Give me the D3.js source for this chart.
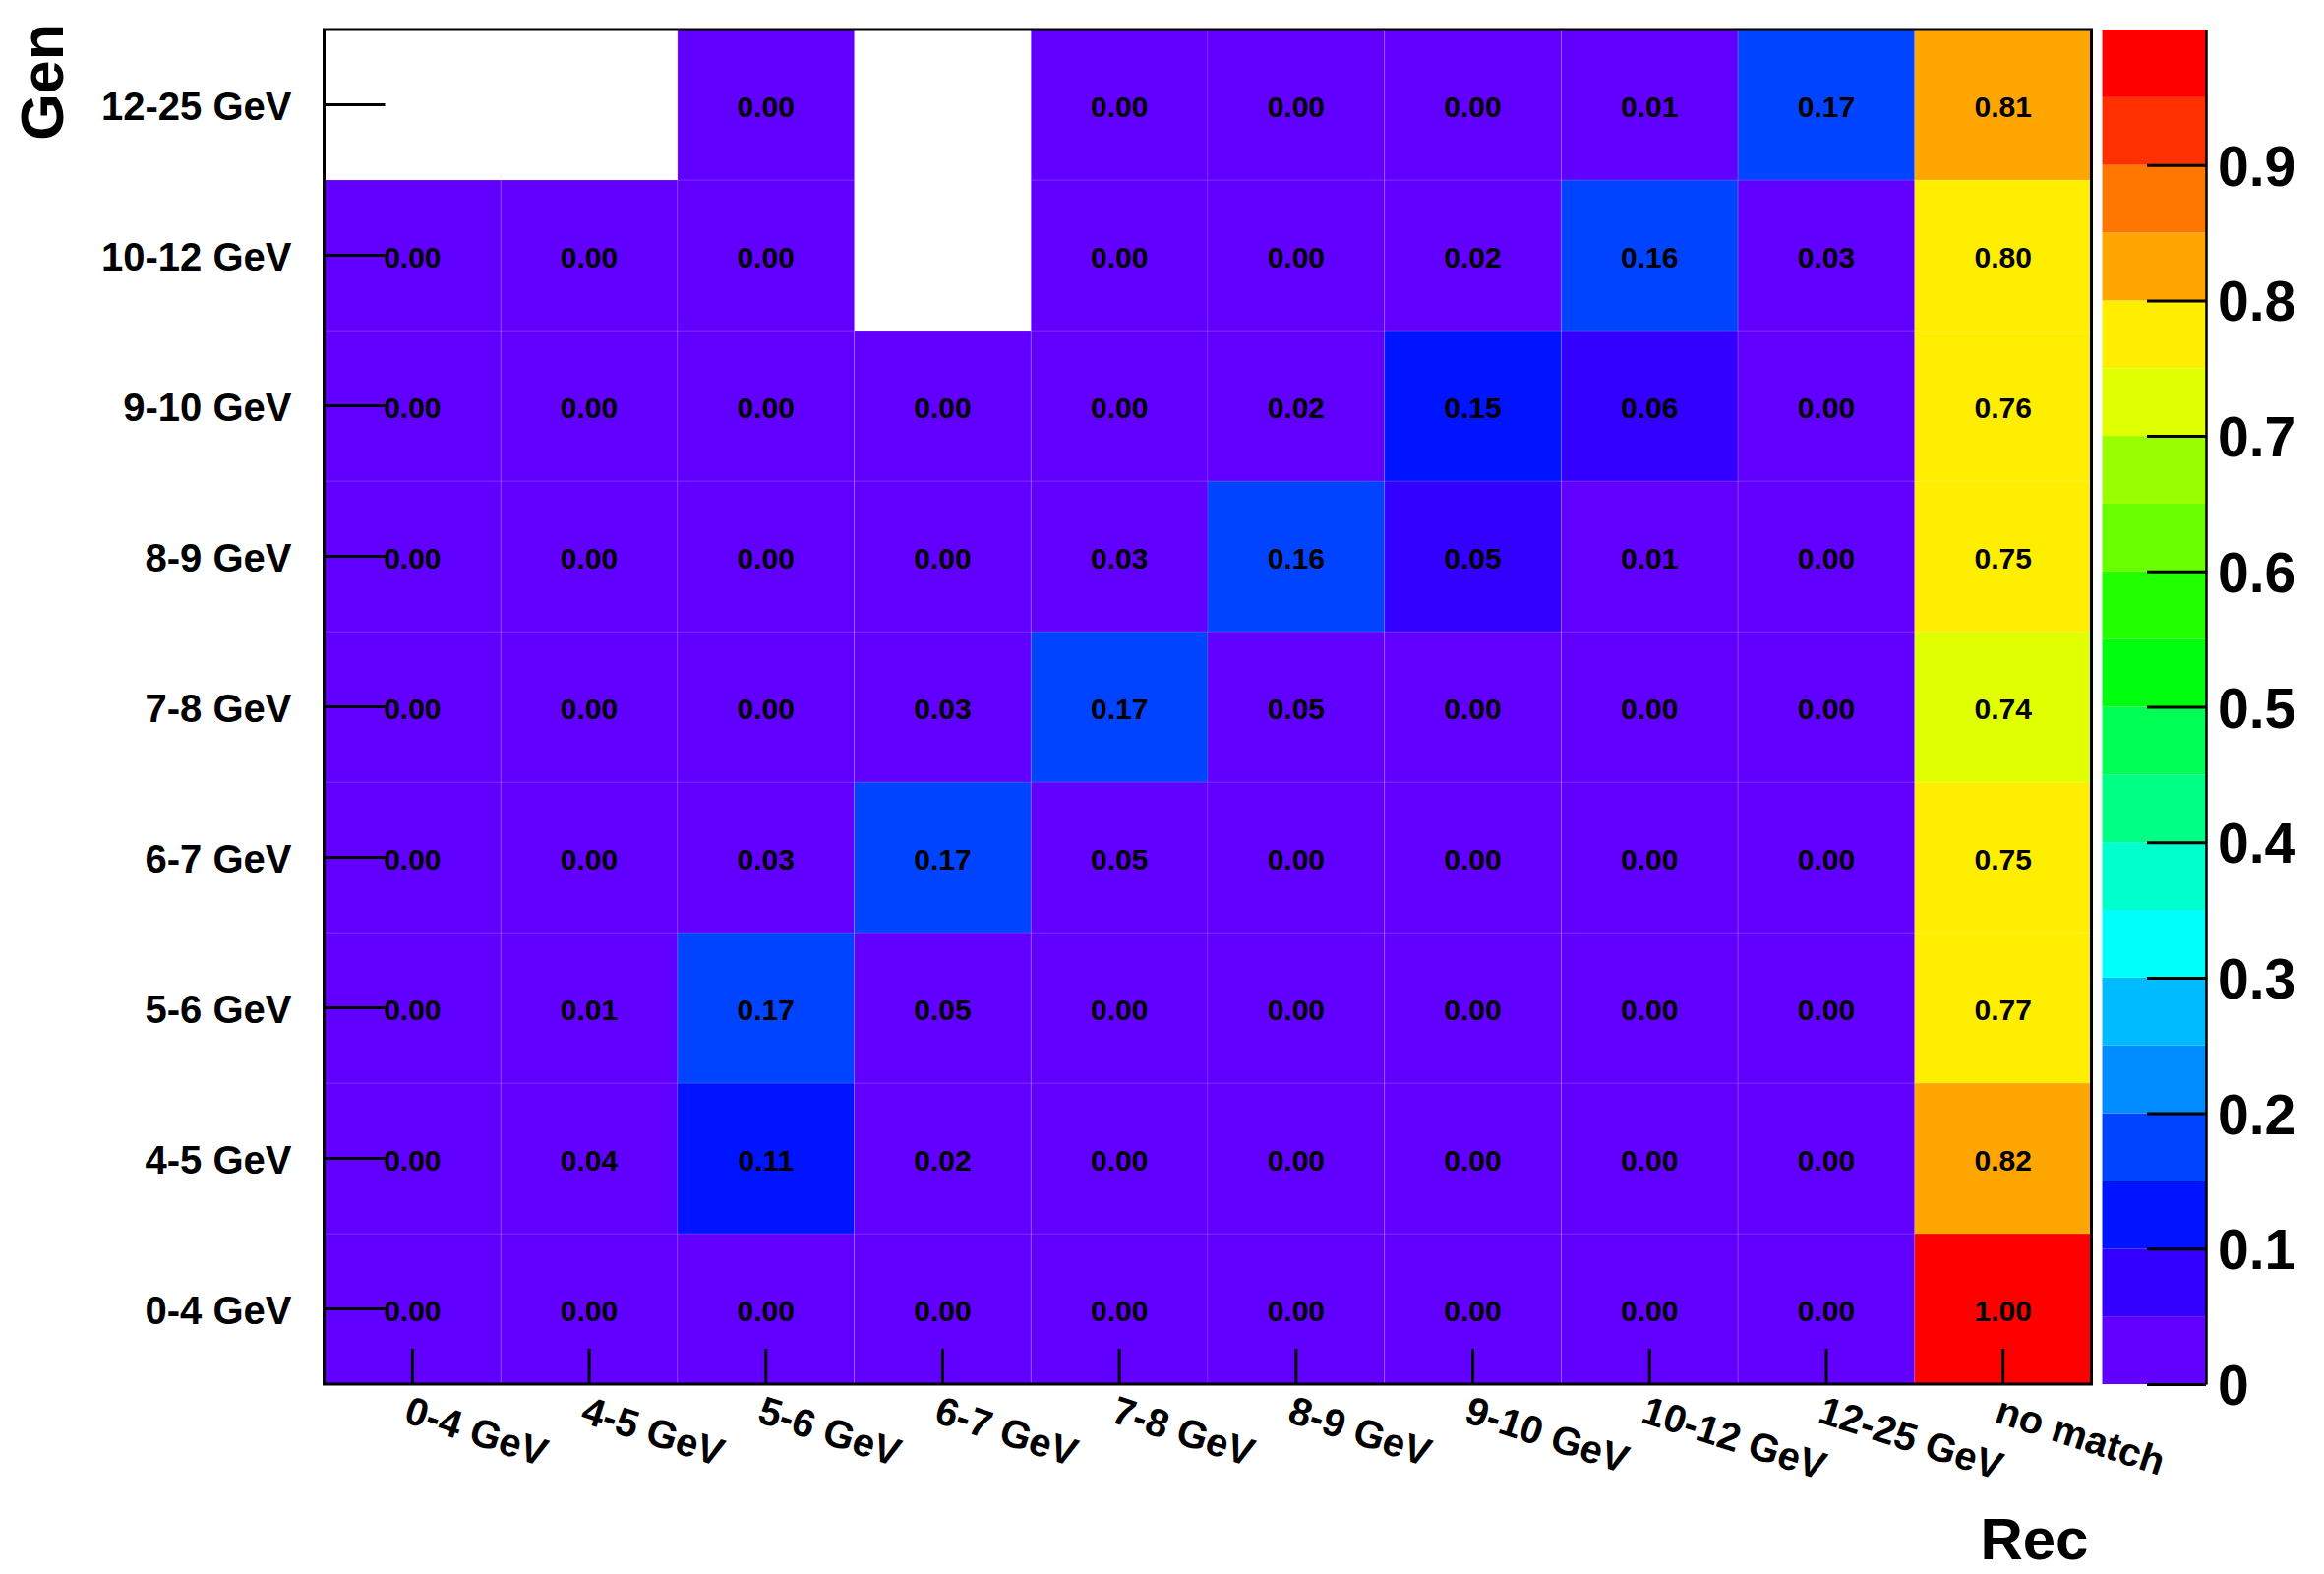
<!DOCTYPE html>
<html>
<head>
<meta charset="utf-8">
<script src="https://cdn.jsdelivr.net/npm/d3@7/dist/d3.min.js"></script>
<style>
  body { margin: 0; background: #ffffff; }
  text { font-family: "Liberation Sans", Arial, Helvetica, sans-serif; font-weight: bold; }
</style>
</head>
<body>
<svg id="chart" width="2363" height="1600"></svg>
<script>
// ---------------- data ----------------
const recCategories = ["0-4 GeV", "4-5 GeV", "5-6 GeV", "6-7 GeV", "7-8 GeV", "8-9 GeV", "9-10 GeV", "10-12 GeV", "12-25 GeV", "no match"];
const genCategories = ["0-4 GeV", "4-5 GeV", "5-6 GeV", "6-7 GeV", "7-8 GeV", "8-9 GeV", "9-10 GeV", "10-12 GeV", "12-25 GeV"];

// fraction of events per (Gen row, Rec column); null = empty bin
const gen_0_4   = [0.00, 0.00, 0.00, 0.00, 0.00, 0.00, 0.00, 0.00, 0.00, 1.00];
const gen_4_5   = [0.00, 0.04, 0.11, 0.02, 0.00, 0.00, 0.00, 0.00, 0.00, 0.82];
const gen_5_6   = [0.00, 0.01, 0.17, 0.048, 0.00, 0.00, 0.00, 0.00, 0.00, 0.77];
const gen_6_7   = [0.00, 0.00, 0.03, 0.17, 0.048, 0.00, 0.00, 0.00, 0.00, 0.752];
const gen_7_8   = [0.00, 0.00, 0.00, 0.03, 0.17, 0.048, 0.00, 0.00, 0.00, 0.74];
const gen_8_9   = [0.00, 0.00, 0.00, 0.00, 0.03, 0.16, 0.052, 0.01, 0.00, 0.752];
const gen_9_10  = [0.00, 0.00, 0.00, 0.00, 0.00, 0.02, 0.149, 0.06, 0.00, 0.76];
const gen_10_12 = [0.00, 0.00, 0.00, null, 0.00, 0.00, 0.02, 0.16, 0.03, 0.798];
const gen_12_25 = [null, null, 0.00, null, 0.00, 0.00, 0.00, 0.01, 0.17, 0.81];
const genRows = [gen_0_4, gen_4_5, gen_5_6, gen_6_7, gen_7_8, gen_8_9, gen_9_10, gen_10_12, gen_12_25];

const colorTicks = [0, 0.1, 0.2, 0.3, 0.4, 0.5, 0.6, 0.7, 0.8, 0.9];
const xTitle = "Rec";
const yTitle = "Gen";

// ROOT "pretty" palette, 20 contour levels
const palette = ["#6200ff", "#3300ff", "#0014ff", "#0044ff", "#008bff", "#00bbff", "#00fffb", "#00ffcc",
                 "#00ff85", "#00ff55", "#00ff0e", "#22ff00", "#69ff00", "#99ff00", "#e0ff00", "#ffee00",
                 "#ffa700", "#ff7700", "#ff3000", "#ff0000"];

// ---------------- layout ----------------
const plot = { left: 329.5, right: 2126.5, top: 30, bottom: 1407 };
const bar = { left: 2137.5, right: 2243 };

const svg = d3.select("#chart");
svg.append("rect").attr("width", 2363).attr("height", 1600).attr("fill", "#fff");

const x = d3.scaleBand().domain(recCategories).range([plot.left, plot.right]);
const y = d3.scaleBand().domain(genCategories).range([plot.bottom, plot.top]);
const color = d3.scaleQuantize().domain([0, 1]).range(palette);

const cells = [];
genRows.forEach((row, gi) => {
  row.forEach((v, ri) => {
    if (v !== null) cells.push({ gen: genCategories[gi], rec: recCategories[ri], value: v });
  });
});

const gCells = svg.append("g");
gCells.selectAll("rect").data(cells).join("rect")
  .attr("x", d => x(d.rec))
  .attr("y", d => y(d.gen))
  .attr("width", x.bandwidth())
  .attr("height", y.bandwidth())
  .attr("fill", d => color(d.value))
  .attr("stroke", "rgba(255,255,255,0.13)")
  .attr("stroke-width", 1);

gCells.selectAll("text").data(cells).join("text")
  .attr("x", d => x(d.rec) + x.bandwidth() / 2)
  .attr("y", d => y(d.gen) + y.bandwidth() / 2)
  .attr("dy", "0.42em")
  .attr("text-anchor", "middle")
  .attr("font-size", 30)
  .attr("fill", "#000")
  .text(d => d3.format(".2f")(d.value));

// ---------------- axes ----------------
const xAxis = svg.append("g").attr("transform", `translate(0,${plot.bottom})`)
  .call(d3.axisTop(x).tickSizeInner(36).tickSizeOuter(0).tickFormat(""));
xAxis.select(".domain").remove();
xAxis.selectAll(".tick line").attr("stroke", "#000").attr("stroke-width", 3);

svg.append("g").selectAll("text").data(recCategories).join("text")
  .attr("transform", d => `translate(${x(d) + x.bandwidth() / 2 - 10},${plot.bottom + 38}) rotate(18)`)
  .attr("text-anchor", "start")
  .attr("font-size", 40)
  .attr("fill", "#000")
  .text(d => d);

const yAxis = svg.append("g").attr("transform", `translate(${plot.left},0)`)
  .call(d3.axisRight(y).tickSizeInner(62).tickSizeOuter(0).tickFormat(""));
yAxis.select(".domain").remove();
yAxis.selectAll(".tick line").attr("stroke", "#000").attr("stroke-width", 3);

svg.append("g").selectAll("text").data(genCategories).join("text")
  .attr("x", plot.left - 33)
  .attr("y", d => y(d) + y.bandwidth() / 2)
  .attr("dy", "0.38em")
  .attr("text-anchor", "end")
  .attr("font-size", 40)
  .attr("fill", "#000")
  .text(d => d);

// frame
svg.append("rect")
  .attr("x", plot.left).attr("y", plot.top)
  .attr("width", plot.right - plot.left).attr("height", plot.bottom - plot.top)
  .attr("fill", "none").attr("stroke", "#000").attr("stroke-width", 3);

// axis titles
svg.append("text")
  .attr("x", plot.right - 3).attr("y", 1585)
  .attr("text-anchor", "end").attr("font-size", 60).attr("fill", "#000")
  .text(xTitle);
svg.append("text")
  .attr("transform", `translate(64,24) rotate(-90)`)
  .attr("text-anchor", "end").attr("font-size", 61).attr("fill", "#000")
  .text(yTitle);

// ---------------- colour bar ----------------
const z = d3.scaleLinear().domain([0, 1]).range([plot.bottom, plot.top]);
const levels = d3.range(palette.length).map(i => ({ lo: i / palette.length, hi: (i + 1) / palette.length, c: palette[i] }));
svg.append("g").selectAll("rect").data(levels).join("rect")
  .attr("x", bar.left)
  .attr("y", d => z(d.hi))
  .attr("width", bar.right - bar.left)
  .attr("height", d => z(d.lo) - z(d.hi))
  .attr("fill", d => d.c);

const zAxis = svg.append("g").attr("transform", `translate(${bar.right},0)`)
  .call(d3.axisRight(z).tickValues(colorTicks).tickFormat(d3.format(".1~f"))
    .tickSizeInner(-60).tickSizeOuter(0).tickPadding(12));
zAxis.select(".domain").attr("stroke", "#000").attr("stroke-width", 2.5);
zAxis.selectAll(".tick line").attr("stroke", "#000").attr("stroke-width", 3);
zAxis.selectAll(".tick text")
  .attr("font-size", 57)
  .attr("font-family", "'Liberation Sans', Arial, Helvetica, sans-serif")
  .attr("font-weight", "bold")
  .attr("fill", "#000")
  .attr("dy", "0.36em");
</script>
</body>
</html>
